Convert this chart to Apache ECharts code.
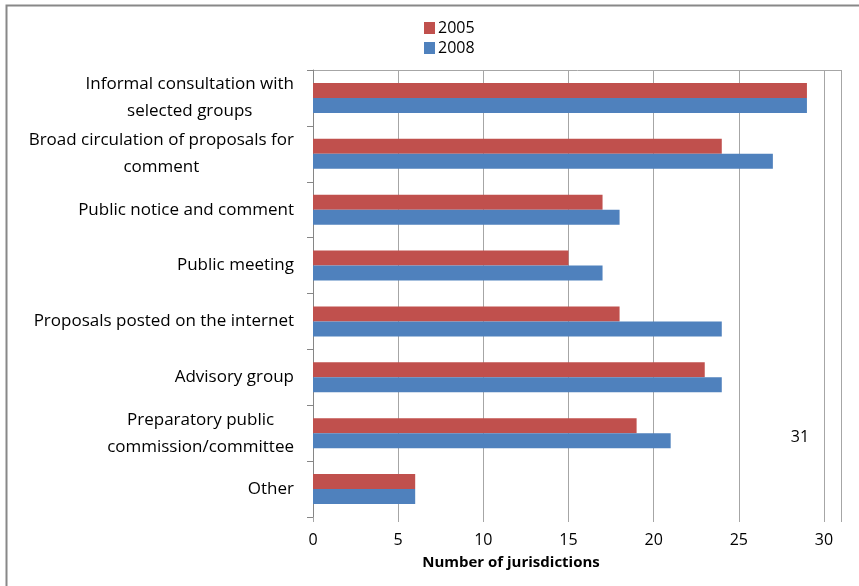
<!DOCTYPE html>
<html>
<head>
<meta charset="utf-8">
<script src="https://cdn.jsdelivr.net/npm/echarts@6/dist/echarts.min.js"></script>
<style>
html,body{margin:0;padding:0;background:#fff;}
#main{width:859px;height:586px;}
</style>
</head>
<body>
<div id="main"></div>
<script>
var categories = [
  "Informal consultation with\nselected groups",
  "Broad circulation of proposals for\ncomment",
  "Public notice and comment",
  "Public meeting",
  "Proposals posted on the internet",
  "Advisory group",
  "Preparatory public\ncommission/committee",
  "Other"
];
var values2005 = [29, 24, 17, 15, 18, 23, 19, 6];
var values2008 = [29, 27, 18, 17, 24, 24, 21, 6];
var seriesNames = ["2005", "2008"];
var axisTitle = "Number of jurisdictions";
var strayLabel = "31";

var FONT = "Open Sans";
var chart = echarts.init(document.getElementById('main'), null, {renderer: 'canvas'});
var option = {
  animation: false,
  backgroundColor: '#ffffff',
  color: ['#C0504D', '#4F81BD'],
  textStyle: {fontFamily: FONT},
  legend: {
    orient: 'vertical',
    left: 424,
    top: 18,
    padding: 0,
    itemWidth: 11,
    itemHeight: 12,
    itemGap: 0,
    icon: 'rect',
    textStyle: {fontFamily: FONT, fontSize: 16, color: '#000', padding: [0,0,0,-2], lineHeight: 20},
    data: seriesNames
  },
  grid: {left: 313, right: 18, top: 70, bottom: 69, containLabel: false},
  xAxis: {
    type: 'value',
    min: 0,
    max: 31,
    interval: 5,
    axisLine: {show: false},
    axisTick: {show: true, length: 5, lineStyle: {color: '#A6A6A6'}},
    splitLine: {show: true, lineStyle: {color: '#A6A6A6', width: 1}},
    axisLabel: {
      fontFamily: FONT, fontSize: 16, color: '#000', margin: 15,
      formatter: function (v) { return v % 5 === 0 ? String(v) : ''; }
    }
  },
  yAxis: {
    type: 'category',
    inverse: true,
    data: categories,
    axisLine: {show: true, lineStyle: {color: '#868686'}},
    axisTick: {show: true, length: 6, lineStyle: {color: '#868686'}},
    axisLabel: {
      fontFamily: FONT, fontSize: 17, color: '#000', margin: 19, lineHeight: 27,
      formatter: function (v) {
        return v.split('\n').map(function (s) { return '{c|' + s + '}'; }).join('\n');
      },
      rich: {c: {align: 'center', fontFamily: FONT, fontSize: 17, color: '#000', lineHeight: 27}}
    }
  },
  series: [
    {name: seriesNames[0], type: 'bar', data: values2005, barWidth: 15, barGap: '0%'},
    {name: seriesNames[1], type: 'bar', data: values2008, barWidth: 15, barGap: '0%'}
  ],
  graphic: [
    {type: 'rect', left: 4, top: 3, shape: {width: 900, height: 700}, style: {fill: 'none', stroke: '#888', lineWidth: 2}, silent: true},
    {type: 'line', shape: {x1: 313, y1: 70.5, x2: 842, y2: 70.5}, style: {stroke: '#A6A6A6', lineWidth: 1}, silent: true},
    {type: 'text', style: {text: axisTitle, x: 511, y: 563, align: 'center', verticalAlign: 'middle', font: 'bold 15px ' + FONT, fill: '#000'}},
    {type: 'text', style: {text: strayLabel, x: 800, y: 437, align: 'center', verticalAlign: 'middle', font: '16px ' + FONT, fill: '#000'}}
  ]
};
chart.setOption(option);
</script>
</body>
</html>
